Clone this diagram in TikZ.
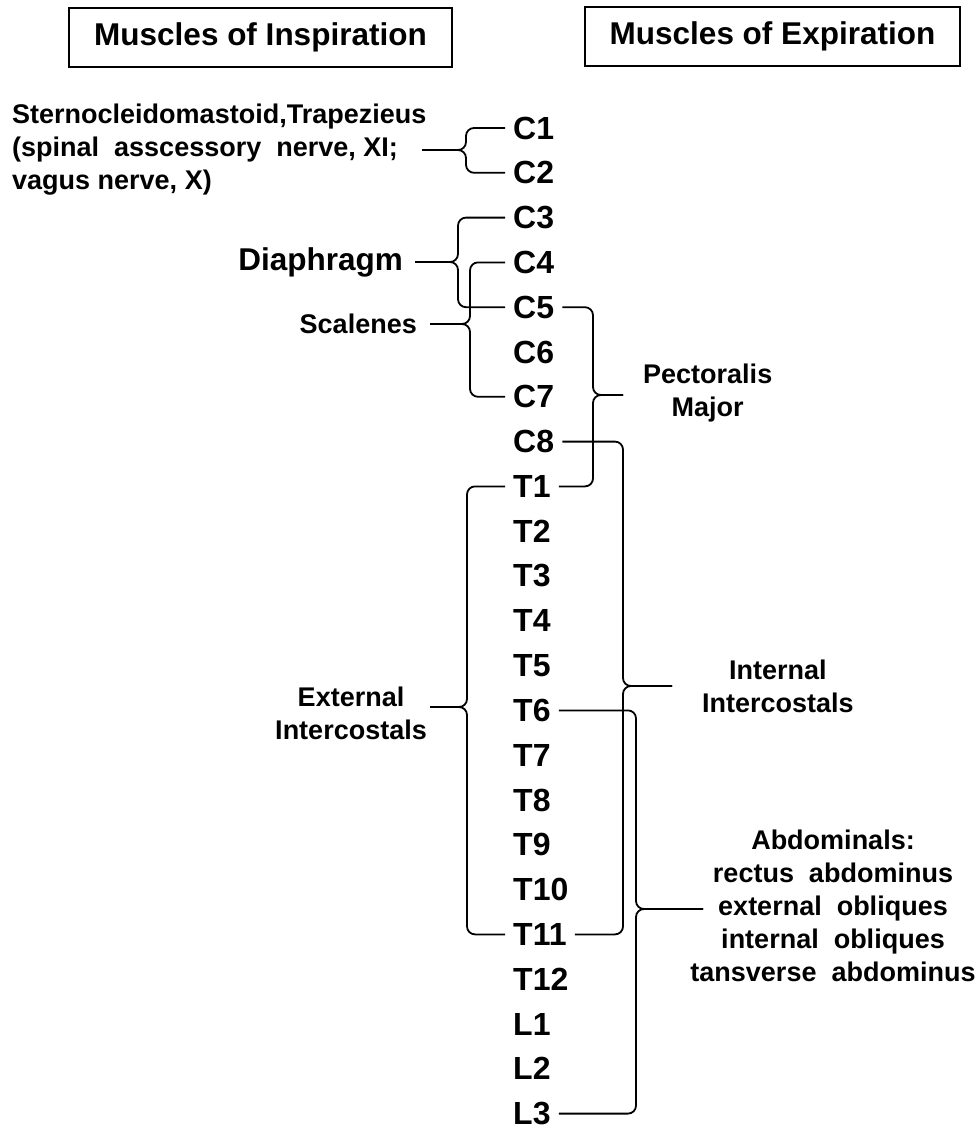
\documentclass[tikz,border=0pt]{standalone}
\usepackage{fontspec}
\setmainfont{Liberation Sans}
\usetikzlibrary{calc}
\tikzset{
  head-box/.style={draw,line width=2pt,minimum height=59pt,inner sep=0pt,
    font=\fontsize{31.5}{36}\selectfont\bfseries},
  spine/.style={anchor=west,inner xsep=8pt,inner ysep=0pt,
    font=\fontsize{32}{36}\selectfont\bfseries},
  muscle/.style={align=center,inner sep=0pt,
    font=\fontsize{27}{33}\selectfont\bfseries},
  brc/.style={line width=1.8pt,rounded corners=8pt},
}
\begin{document}
\begin{tikzpicture}[x=1pt,y=-1pt]
  \useasboundingbox (0,0) rectangle (979,1135);
  % headers
  \node[head-box,minimum width=383pt] (insp) at (260.5,37.5) {Muscles of Inspiration};
  \node[head-box,minimum width=375pt] (expi) at (772.5,36) {Muscles of Expiration};
  % spinal segments
  \foreach \lab [count=\i from 0] in {C1,C2,C3,C4,C5,C6,C7,C8,T1,T2,T3,T4,T5,T6,T7,T8,T9,T10,T11,T12,L1,L2,L3}
    \node[spine] (\lab) at (505,128+44.8*\i) {\lab};
  % inspiration side
  \node[muscle,align=left,anchor=west] (Ste) at (12,150)
    {Sternocleidomastoid,Trapezieus\\(spinal\ \ asscessory\ \ nerve, XI;\\vagus nerve, X)};
  \node[muscle,anchor=east,inner xsep=12pt,font=\fontsize{31.5}{36}\selectfont\bfseries] (Dia) at (415,262) {Diaphragm};
  \node[muscle,anchor=east,inner xsep=13pt] (Sca) at (430,324) {Scalenes};
  \node[muscle,anchor=east,inner xsep=3pt] (ExtI) at (430,713.5) {External\\Intercostals};
  % expiration side
  \node[muscle,anchor=west,inner xsep=20pt] (Pec) at (623,393) {Pectoralis\\Major};
  \node[muscle,anchor=west,inner xsep=30pt] (IntI) at (672,686.5) {Internal\\Intercostals};
  \node[muscle] (Abd) at (833,906) {Abdominals:\\rectus\ \ abdominus\\external\ \ obliques\\internal\ \ obliques\\tansverse\ \ abdominus};
  % brace spines
  \coordinate (sSte) at (466,150);
  \coordinate (steTip) at (422,150);
  \coordinate (sDia) at (458,262);
  \coordinate (sSca) at (470,324);
  \coordinate (sExt) at (467,707);
  \coordinate (sPec) at (593,395);
  \coordinate (sInt) at (623,686);
  \coordinate (sAbd) at (636,909);
  \coordinate (abdTip) at (703,909);
  % braces
  \draw[brc] (C1.west) -| (sSte) -- (steTip);
  \draw[brc] (C2.west) -| (sSte) -- (steTip);
  \draw[brc] (C3.west) -| (sDia) -- (sDia -| Dia.east);
  \draw[brc] (C5.west) -| (sDia) -- (sDia -| Dia.east);
  \draw[brc] (C4.west) -| (sSca) -- (sSca -| Sca.east);
  \draw[brc] (C7.west) -| (sSca) -- (sSca -| Sca.east);
  \draw[brc] (T1.west) -| (sExt) -- (sExt -| ExtI.east);
  \draw[brc] (T11.west) -| (sExt) -- (sExt -| ExtI.east);
  \draw[brc] (C5.east) -| (sPec) -- (sPec -| Pec.west);
  \draw[brc] (T1.east) -| (sPec) -- (sPec -| Pec.west);
  \draw[brc] (C8.east) -| (sInt) -- (sInt -| IntI.west);
  \draw[brc] (T11.east) -| (sInt) -- (sInt -| IntI.west);
  \draw[brc] (T6.east) -| (sAbd) -- (abdTip);
  \draw[brc] (L3.east) -| (sAbd) -- (abdTip);
\end{tikzpicture}
\end{document}
